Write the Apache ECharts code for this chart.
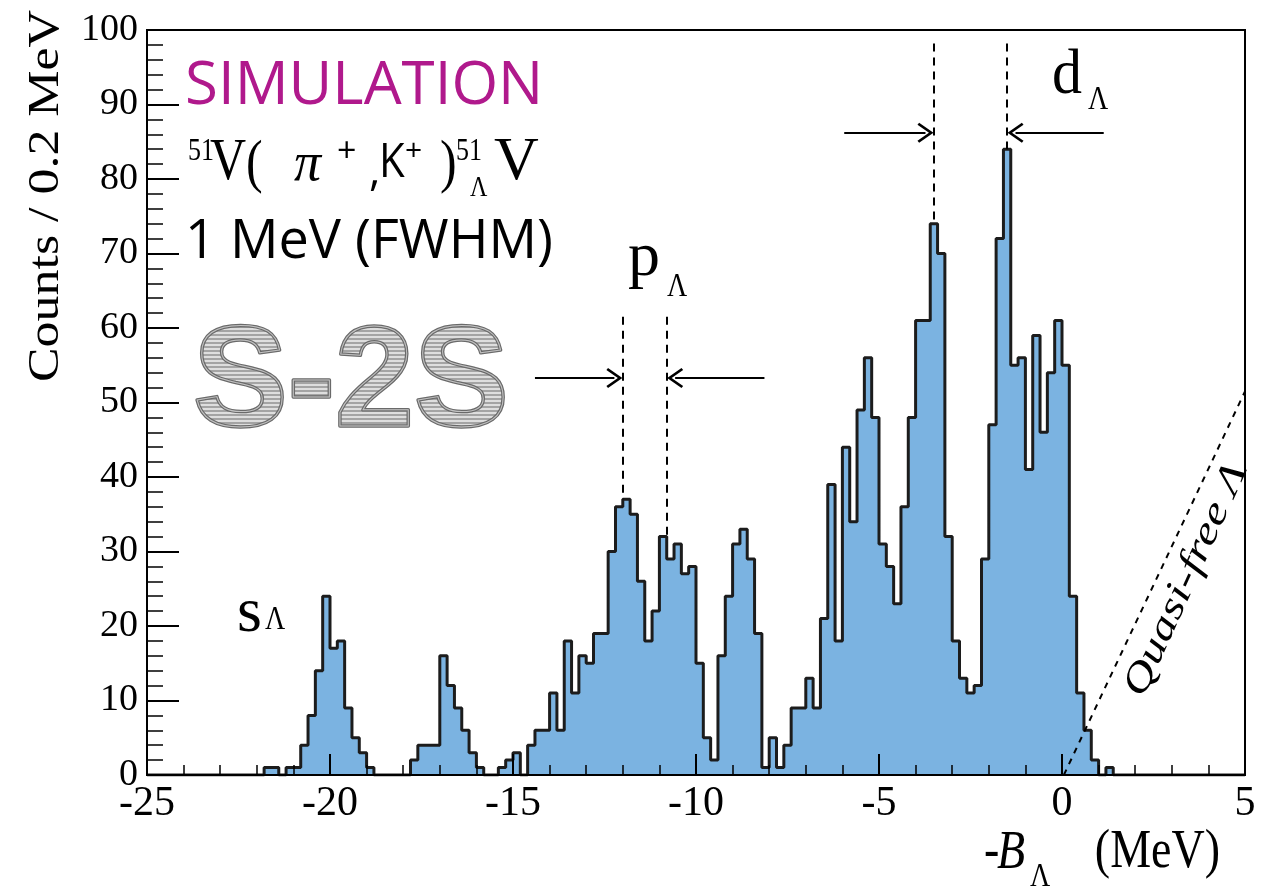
<!DOCTYPE html>
<html>
<head>
<meta charset="utf-8">
<script src="https://cdn.jsdelivr.net/npm/echarts@6/dist/echarts.min.js"></script>
<style>
  html, body { margin: 0; padding: 0; background: #fff; }
  #main { width: 1276px; height: 890px; }
</style>
</head>
<body>
<div id="main"></div>
<script>
// histogram binning: 150 bins of 0.2 MeV between -25 and 5 MeV
var binLow = -25
var binWidth = 0.2

// counts per bin (left edge -25.0, -24.8, ...)
var counts = [
  0, 0, 0, 0, 0, 0, 0, 0, 0, 0, 0, 0, 0, 0, 0,      // -25.0 .. -22.2
  0, 1, 1, 0, 1, 1, 4, 8, 14, 24,                   // -22.0 .. -20.2
  17, 18, 9, 5, 3, 1, 0, 0, 0, 0, 0,                // -20.0 .. -18.0
  2, 4, 4, 4, 16, 12, 9, 6, 3, 1,                   // -17.8 .. -16.0
  0, 0, 1, 2, 3, 0, 4, 6, 6,                        // -15.8 .. -14.2
  11, 6, 18, 11, 16, 15, 19, 19, 30, 36,            // -14.0 .. -12.2
  37, 35, 26, 18, 22, 32, 29, 31, 27, 28,           // -12.0 .. -10.2
  15, 5, 2, 16, 24, 31, 33, 29, 19, 1,              // -10.0 .. -8.2
  5, 1, 4, 9, 9, 13, 9, 21, 39, 18,                 // -8.0 .. -6.2
  44, 34, 49, 56, 48, 31, 28, 23, 36, 48,           // -6.0 .. -4.2
  61, 61, 74, 70, 32, 18, 13, 11, 12, 29,           // -4.0 .. -2.2
  47, 72, 84, 55, 56, 41, 59, 46, 54, 61,           // -2.0 .. -0.2
  55, 24, 11, 6, 2, 0, 1,                           // 0.0 .. 1.2
  0, 0, 0, 0, 0, 0, 0, 0, 0, 0, 0, 0, 0, 0, 0, 0, 0, 0  // 1.4 .. 4.8
]

// axis ranges
var xRange = [-25, 5]
var yRange = [0, 100]

// shell markers (MeV) and where their dashed lines run (counts)
var pShell = [-12.0, -10.8]
var pShellTop = 61.5
var pShellBottom = [37, 32]
var pArrowY = 53.3
var pArrowTail = [-14.4, -8.13]

var dShell = [-3.5, -1.5]
var dShellTop = 98.2
var dShellBottom = [74, 84]
var dArrowY = 86.2
var dArrowTail = [-5.95, 1.14]

// quasi-free threshold line
var quasiFree = [[0.05, 0], [5, 51.5]]

var chartDom = document.getElementById('main')
var myChart = echarts.init(chartDom, null, { renderer: 'canvas' })

// step outline points: one per left edge, plus the closing right edge
var histPoints = counts.map(function (c, i) {
  return [+(binLow + i * binWidth).toFixed(1), c]
})
histPoints.push([+(binLow + counts.length * binWidth).toFixed(1), counts[counts.length - 1]])

// S-2S logo: striped grey letters with a dark outline, drawn to a canvas
function makeLogo() {
  var stripe = document.createElement('canvas')
  stripe.width = 4
  stripe.height = 4
  var s = stripe.getContext('2d')
  s.fillStyle = '#dedede'
  s.fillRect(0, 0, 4, 2)
  s.fillStyle = '#a4a4a4'
  s.fillRect(0, 2, 4, 2)

  var cv = document.createElement('canvas')
  cv.width = 330
  cv.height = 130
  var ctx = cv.getContext('2d')
  ctx.font = 'bold 142px "Liberation Sans", Arial, sans-serif'
  ctx.textBaseline = 'alphabetic'
  ctx.lineJoin = 'round'
  ctx.fillStyle = ctx.createPattern(stripe, 'repeat')
  ctx.fillText('S-2S', 3, 110)
  ctx.strokeStyle = '#6a6a6a'
  ctx.lineWidth = 3.5
  ctx.strokeText('S-2S', 3, 110)
  ctx.strokeStyle = 'rgba(255,255,255,0.6)'
  ctx.lineWidth = 1
  ctx.strokeText('S-2S', 3, 110)
  return cv
}
var logo = makeLogo()

var chevron = 'path://M50,0 L100,70 L90,78 L50,22 L10,78 L0,70 Z'
var dash = { type: [8, 6], width: 2, color: '#000' }
var solid = { type: 'solid', width: 2, color: '#000' }

function arrow(tail, tip, y) {
  // tip is pulled back half a symbol so the chevron point lands on tip
  var back = tip > tail ? -0.23 : 0.23
  return [
    { coord: [tail, y], symbol: 'none', lineStyle: solid },
    { coord: [tip + back, y], symbol: chevron, symbolSize: [20, 16] }
  ]
}
function dashed(x, y1, y2) {
  return [
    { coord: [x, y1], symbol: 'none', lineStyle: dash },
    { coord: [x, y2], symbol: 'none' }
  ]
}

var serif = '"Liberation Serif", "DejaVu Serif", serif'
var sans = '"Open Sans", "Noto Sans", sans-serif'

function txt(x, y, s, font, extra, styleExtra) {
  var el = {
    type: 'text', x: x, y: y, silent: true, z: 50,
    style: Object.assign({ text: s, x: 0, y: 0, font: font, fill: '#000', align: 'left', verticalAlign: 'middle' }, styleExtra || {})
  }
  return Object.assign(el, extra || {})
}

var texts = [
  txt(185, 87, 'SIMULATION', '60px ' + sans, null, { fill: '#b0198c' }),
  // 51V(pi+,K+)51LV
  txt(188, 151, '51', '26px ' + serif, { scaleY: 1.25 }),
  txt(210, 163, 'V', '50px ' + serif, { scaleY: 1.2 }),
  txt(246, 165, '(', '50px ' + serif, { scaleY: 1.2 }),
  txt(294, 166, 'π', 'italic 54px ' + serif),
  txt(337, 152, '+', '34px ' + sans),
  txt(369, 172, ',', '44px ' + sans),
  txt(379, 163, 'K', '42px ' + sans, { scaleY: 1.15 }),
  txt(405, 151, '+', '30px ' + sans),
  txt(440, 165, ')', '50px ' + serif, { scaleY: 1.2 }),
  txt(456, 151, '51', '26px ' + serif, { scaleY: 1.25 }),
  txt(470, 188, 'Λ', '24px ' + serif, { scaleY: 1.25 }),
  txt(494, 163, 'V', '62px ' + serif),
  txt(185, 243, '1 MeV (FWHM)', '54px ' + sans),
  { type: 'image', x: 190, y: 316, silent: true, z: 50,
    style: { image: logo, x: 0, y: 0, width: logo.width, height: logo.height } },
  // shell labels
  txt(237, 614, 's', '64px ' + serif),
  txt(265, 620, 'Λ', '28px ' + serif, { scaleY: 1.2 }),
  txt(628, 258, 'p', '64px ' + serif),
  txt(667, 287, 'Λ', '28px ' + serif, { scaleY: 1.2 }),
  txt(1052, 76, 'd', '60px ' + serif, { scaleY: 1.05 }),
  txt(1088, 100, 'Λ', '28px ' + serif, { scaleY: 1.2 }),
  // quasi-free label along the dashed line
  txt(1186, 580, 'Quasi-free Λ', 'italic 38px ' + serif, { rotation: 1.145, scaleX: 1.3 }, { align: 'center' }),
  // axis titles
  txt(46, 196, 'Counts / 0.2 MeV', '44px ' + serif, { rotation: Math.PI / 2, scaleX: 1.18 }, { align: 'center' }),
  txt(984, 853, '-', '46px ' + serif, { scaleY: 1.2 }),
  txt(997, 853, 'B', 'italic 46px ' + serif, { scaleY: 1.2 }),
  txt(1030, 877, 'Λ', '28px ' + serif, { scaleY: 1.2 }),
  txt(1220, 853, '(MeV)', '46px ' + serif, { scaleY: 1.2 }, { align: 'right' })
]

var option = {
  animation: false,
  backgroundColor: '#fff',
  grid: {
    left: 147, top: 30, width: 1098, height: 745,
    show: true, borderColor: '#000', borderWidth: 2, backgroundColor: 'transparent'
  },
  xAxis: {
    type: 'value', min: xRange[0], max: xRange[1], interval: 5, z: 10,
    axisLine: { show: true, onZero: false, lineStyle: { color: '#000', width: 2 } },
    axisTick: { show: true, inside: true, length: 21, lineStyle: { color: '#000', width: 2 } },
    minorTick: { show: true, splitNumber: 5, length: 10, lineStyle: { color: '#000', width: 1.5 } },
    axisLabel: { color: '#000', fontFamily: serif, fontSize: 42, margin: 8 },
    splitLine: { show: false }
  },
  yAxis: {
    type: 'value', min: yRange[0], max: yRange[1], interval: 10, z: 10,
    axisLine: { show: true, onZero: false, lineStyle: { color: '#000', width: 2 } },
    axisTick: { show: true, inside: true, length: 32, lineStyle: { color: '#000', width: 2 } },
    minorTick: { show: true, splitNumber: 5, length: 16, lineStyle: { color: '#000', width: 1.5 } },
    axisLabel: { color: '#000', fontFamily: serif, fontSize: 38, margin: 9 },
    splitLine: { show: false }
  },
  series: [{
    type: 'line',
    step: 'end',
    data: histPoints,
    showSymbol: false,
    silent: true,
    lineStyle: { color: '#1c1c1c', width: 3 },
    areaStyle: { color: '#7bb3e1', opacity: 1 },
    markLine: {
      silent: true,
      animation: false,
      label: { show: false },
      symbol: ['none', 'none'],
      lineStyle: dash,
      data: [
        dashed(pShell[0], pShellTop, pShellBottom[0]),
        dashed(pShell[1], pShellTop, pShellBottom[1]),
        dashed(dShell[0], dShellTop, dShellBottom[0]),
        dashed(dShell[1], dShellTop, dShellBottom[1]),
        [
          { coord: quasiFree[0], symbol: 'none', lineStyle: { type: [6, 6], width: 2, color: '#000' } },
          { coord: quasiFree[1], symbol: 'none' }
        ],
        arrow(pArrowTail[0], pShell[0], pArrowY),
        arrow(pArrowTail[1], pShell[1], pArrowY),
        arrow(dArrowTail[0], dShell[0], dArrowY),
        arrow(dArrowTail[1], dShell[1], dArrowY)
      ]
    }
  }],
  graphic: texts
}

myChart.setOption(option)
</script>
</body>
</html>
